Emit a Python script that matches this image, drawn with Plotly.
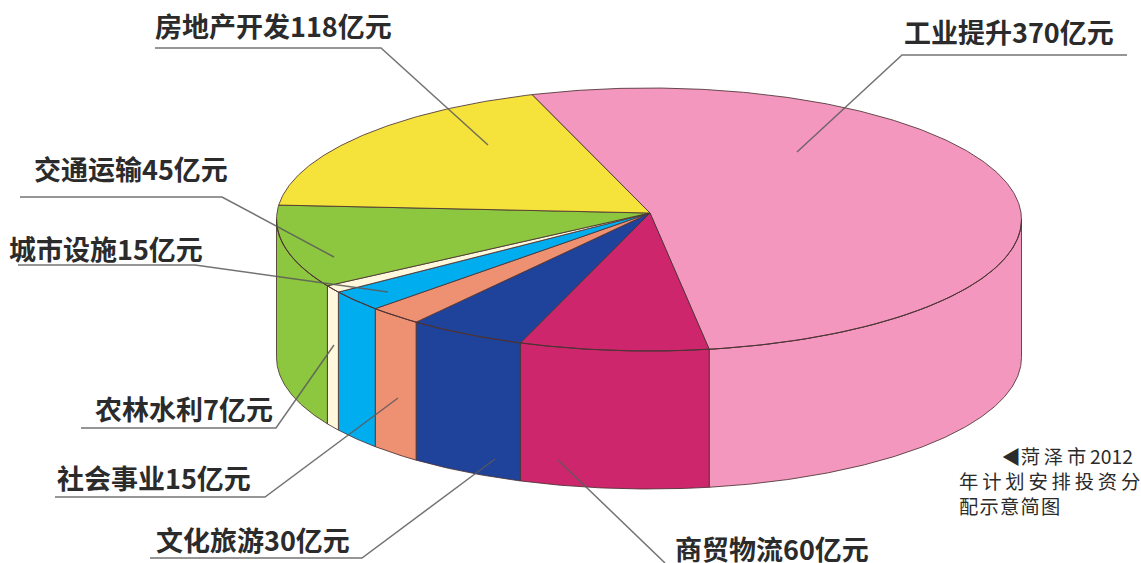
import numpy as np
import plotly.graph_objects as go

# Data as labelled in the picture (hundred-million yuan)
categories = ["工业提升", "商贸物流", "文化旅游", "社会事业", "城市设施", "农林水利", "交通运输", "房地产开发"]
values = [370, 60, 30, 15, 15, 7, 45, 118]
# Sweep of each slice as actually drawn in the picture, in degrees
drawn_degrees = [189.0, 29.5, 18.5, 8.6, 9.2, 3.2, 36.6, 65.4]
colors = ["#F497BF", "#CE266C", "#1F429A", "#EE9072", "#00AEEF", "#FFF8DC", "#8DC63F", "#F5E23A"]

START_DEG = 108.3
CX, CY, RX, RY = 649.0, 219.5, 372.5, 131.5
APEX = (650.0, 213.0)
DEPTH = 138.0
EDGE = "rgba(75,50,50,0.85)"
LEAD = "rgba(90,90,90,0.85)"

FONT = "Noto Sans CJK SC"
label_pos = [(902, 31), (673, 548), (154, 539), (55, 477), (7, 248), (93, 408), (32, 168), (153, 25)]
leaders = [
    [(1127, 55), (902, 55), (797, 152)],
    [(665, 563), (558, 460)],
    [(150, 558), (362, 558), (495, 459)],
    [(55, 497), (265, 497), (398, 398)],
    [(18, 265), (195, 265), (388, 292)],
    [(81, 428), (276, 428), (334, 345)],
    [(20, 197), (222, 197), (334, 257)],
    [(155, 48), (381, 48), (488, 145)],
]
THIN = "\u2009"
HAIR = "\u200a"
note_lines = [
    "\u3000\u3000" + THIN + "◀" + THIN.join("菏泽市") + THIN + "2012",
    THIN.join("年计划安排投资分"),
    HAIR.join("配示意简图"),
]


def arc(t0, t1):
    n = max(2, int(abs(t1 - t0) * 2) + 1)
    t = np.radians(np.linspace(t0, t1, n))
    return CX + RX * np.cos(t), CY - RY * np.sin(t)


fig = go.Figure()
bounds = START_DEG - np.concatenate([[0], np.cumsum(drawn_degrees)])

# side walls (only the part of each slice facing the viewer)
for i, c in enumerate(colors):
    a0, a1 = bounds[i], bounds[i + 1]
    t0, t1 = min(a0, 0), max(a1, -180)
    if t0 <= t1:
        continue
    x, y = arc(t0, t1)
    fig.add_trace(go.Scatter(
        x=np.concatenate([x, x[::-1], x[:1]]),
        y=np.concatenate([y, y[::-1] + DEPTH, y[:1]]),
        mode="lines", fill="toself", fillcolor=c,
        line=dict(color=EDGE, width=1), hoverinfo="skip", showlegend=False))

# top face
for i, c in enumerate(colors):
    x, y = arc(bounds[i], bounds[i + 1])
    fig.add_trace(go.Scatter(
        x=np.concatenate([[APEX[0]], x, [APEX[0]]]),
        y=np.concatenate([[APEX[1]], y, [APEX[1]]]),
        mode="lines", fill="toself", fillcolor=c,
        line=dict(color=EDGE, width=1), name=categories[i],
        hovertext=f"{categories[i]}{values[i]}亿元", hoverinfo="text", showlegend=False))

# front rim of the top face, which runs across the walls
x, y = arc(0, -180)
fig.add_trace(go.Scatter(x=x, y=y, mode="lines", line=dict(color=EDGE, width=1),
                         hoverinfo="skip", showlegend=False))

for pts in leaders:
    fig.add_trace(go.Scatter(x=[p[0] for p in pts], y=[p[1] for p in pts], mode="lines",
                             line=dict(color=LEAD, width=1.5), hoverinfo="skip", showlegend=False))

annotations = []
for cat, val, (lx, ly) in zip(categories, values, label_pos):
    annotations.append(dict(x=lx, y=ly, xref="x", yref="y", xanchor="left", yanchor="middle",
                            text=f"<b>{cat}{val}亿元</b>", showarrow=False,
                            font=dict(family=FONT, size=27, color="#2b2b2b")))
annotations.append(dict(x=957, y=481, xref="x", yref="y", xanchor="left", yanchor="middle", align="left",
                        text="<br>".join(note_lines), showarrow=False,
                        font=dict(family=FONT, size=19.3, color="#2b2b2b")))

fig.update_layout(
    width=1141, height=563, margin=dict(l=0, r=0, t=0, b=0),
    paper_bgcolor="white", plot_bgcolor="white", showlegend=False,
    xaxis=dict(range=[0, 1141], visible=False, fixedrange=True),
    yaxis=dict(range=[563, 0], visible=False, fixedrange=True),
    annotations=annotations,
)
fig.write_html("out.html", config=dict(displayModeBar=False),
               post_script="document.body.style.margin='0';document.documentElement.style.overflow='hidden';")
